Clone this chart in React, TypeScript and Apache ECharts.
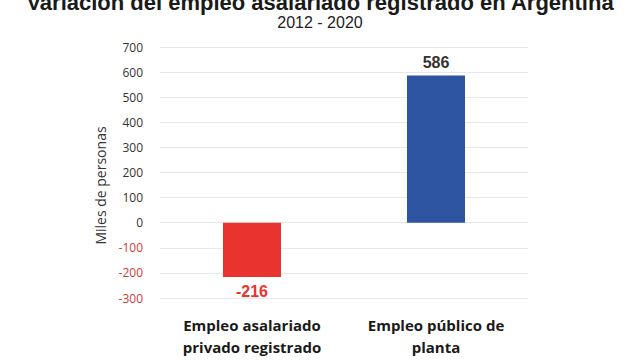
import React, { useEffect, useRef } from "react";
import * as echarts from "echarts";

const categories = ["Empleo asalariado\nprivado registrado", "Empleo público de\nplanta"];
const values = [-216, 586];
const barColors = ["#e9332f", "#2d55a1"];
const titleText = "Variación del empleo asalariado registrado en Argentina";
const subtitleText = "2012 - 2020";
const yAxisName = "Miles de personas";

export default function App() {
  const ref = useRef<HTMLDivElement>(null);
  useEffect(() => {
    const chart = echarts.init(ref.current!, null, { renderer: "svg" });
    chart.setOption({
      animation: false,
      backgroundColor: "#ffffff",
      title: [
        {
          text: titleText,
          left: "center",
          top: -14,
          textStyle: { fontFamily: "Liberation Sans, Arial", fontWeight: "bold", fontSize: 22, color: "#1a1a1a" },
        },
        {
          text: subtitleText,
          left: "center",
          top: 9,
          textStyle: { fontFamily: "Liberation Sans, Arial", fontWeight: "normal", fontSize: 16, color: "#222" },
        },
      ],
      grid: { left: 160, right: 112, top: 47, bottom: 62, containLabel: false },
      xAxis: {
        type: "category",
        data: categories,
        axisLine: { show: false },
        axisTick: { show: false },
        axisLabel: {
          margin: 16,
          fontFamily: "Open Sans",
          fontWeight: "bold",
          fontSize: 15,
          lineHeight: 22,
          color: "#1a1a1a",
        },
      },
      yAxis: {
        type: "value",
        min: -300,
        max: 700,
        interval: 100,
        name: yAxisName,
        nameLocation: "middle",
        nameGap: 52,
        nameTextStyle: { fontFamily: "Open Sans", fontSize: 14, color: "#333", padding: [0, 26, 0, 0] },
        axisLine: { show: false },
        axisTick: { show: false },
        splitLine: { lineStyle: { color: "#e8e8e8", width: 1 } },
        axisLabel: {
          margin: 17,
          formatter: (v: number) => (v < 0 ? `{n|${v}}` : `{p|${v}}`),
          rich: {
            n: { color: "#d23a3a", fontFamily: "Open Sans", fontSize: 12 },
            p: { color: "#333", fontFamily: "Open Sans", fontSize: 12 },
          },
        },
      },
      series: [
        {
          type: "bar",
          barWidth: 58,
          data: values.map((v, i) => ({
            value: v,
            itemStyle: { color: barColors[i] },
            label: {
              show: true,
              position: v < 0 ? "bottom" : "top",
              distance: v < 0 ? 7 : 5,
              fontFamily: "Liberation Sans, Arial",
              fontWeight: "bold",
              fontSize: 16,
              color: v < 0 ? "#e8332f" : "#333",
            },
          })),
        },
      ],
    });
    return () => chart.dispose();
  }, []);
  return <div ref={ref} style={{ position: "fixed", left: 0, top: 0, width: 640, height: 360 }} />;
}
